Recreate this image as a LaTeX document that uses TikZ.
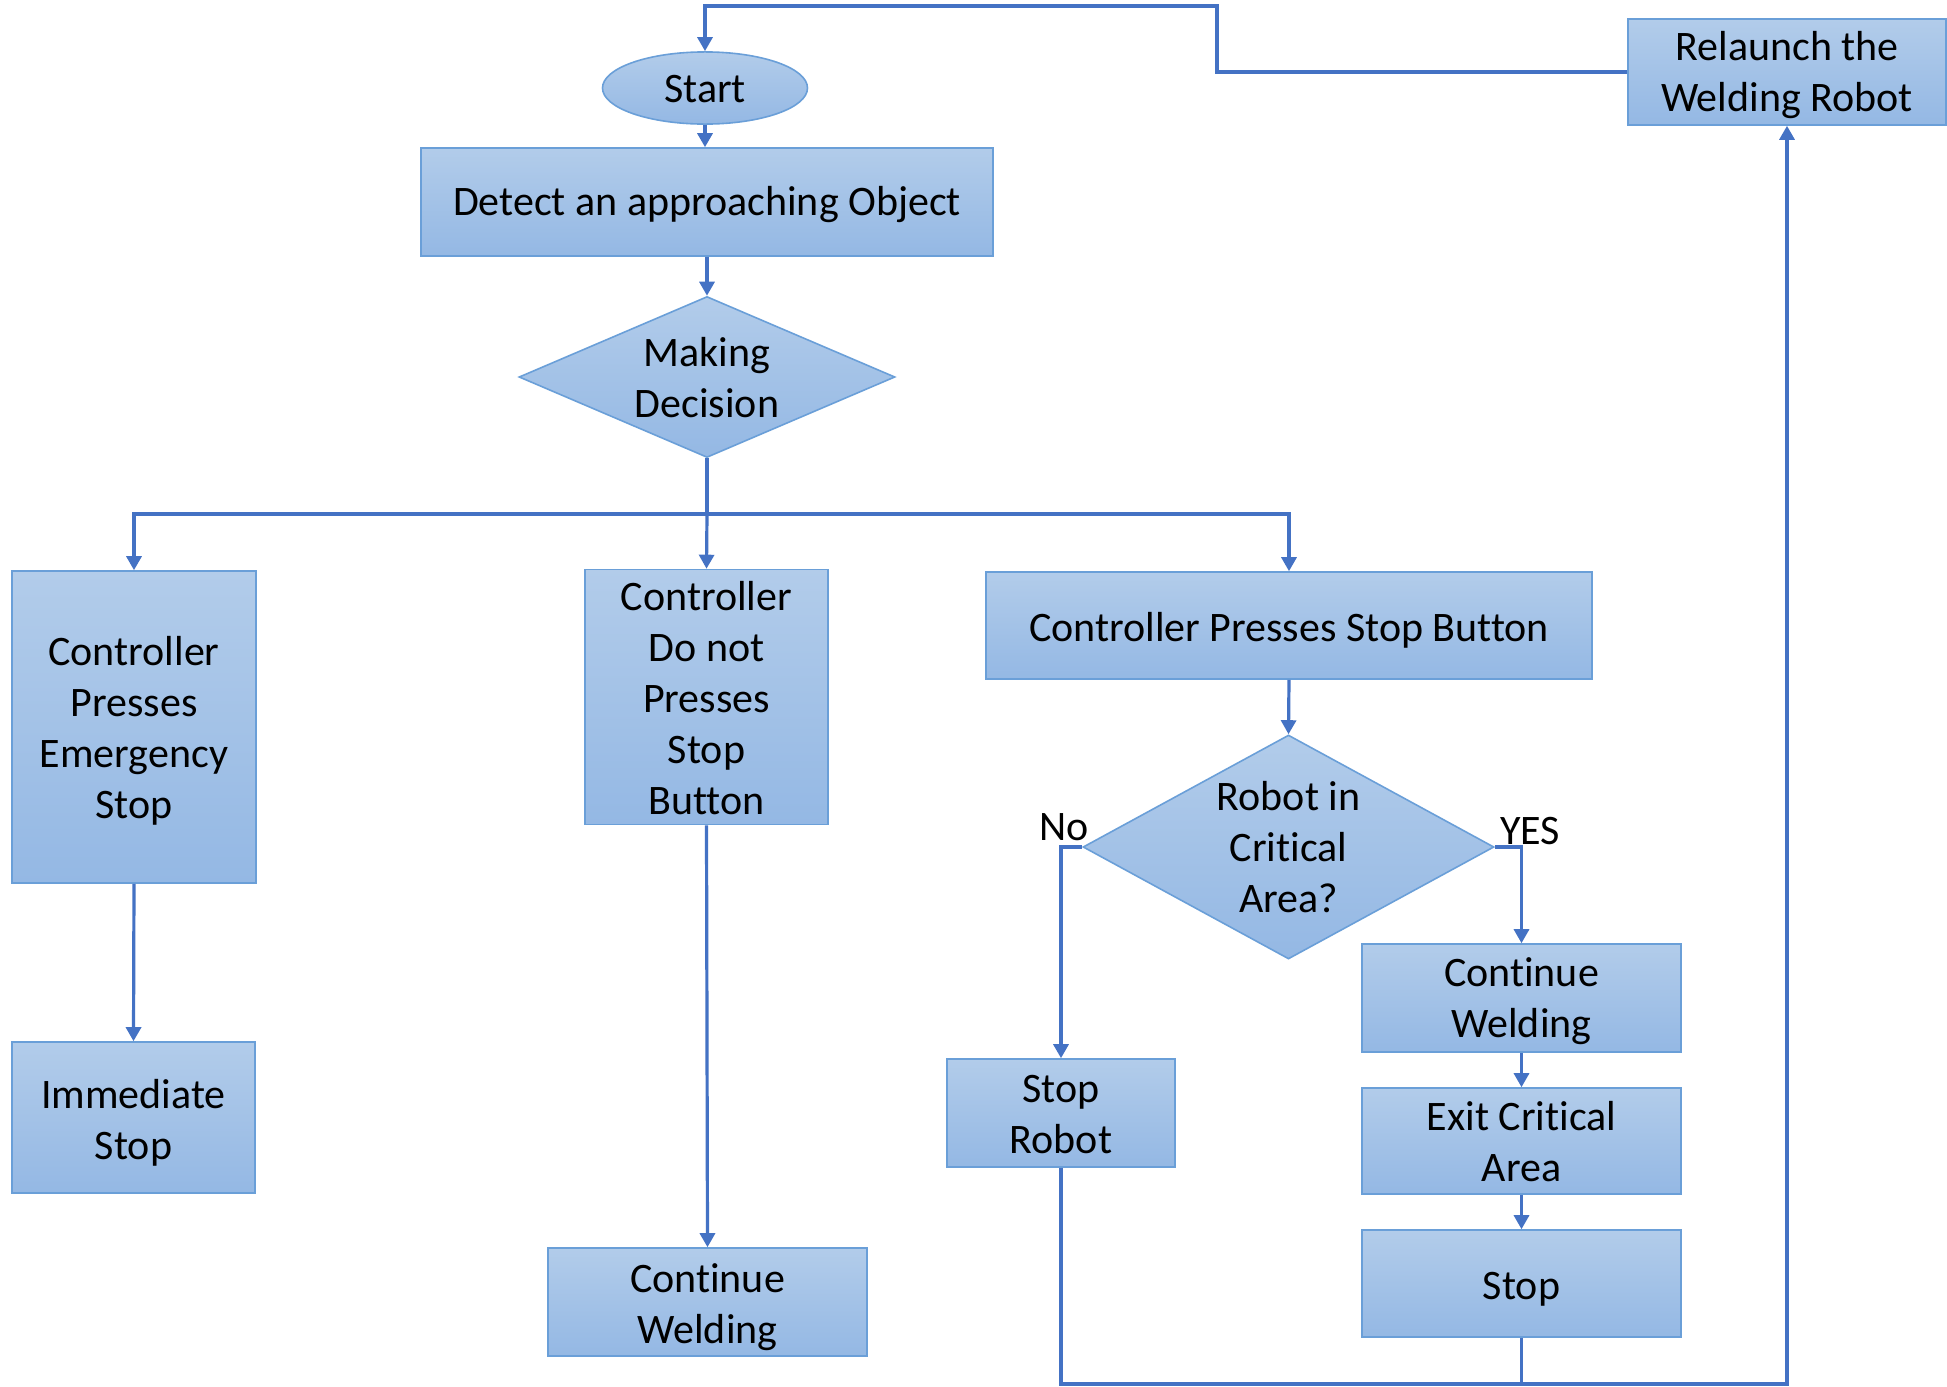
\documentclass[tikz,border=0pt]{standalone}
\usepackage{fontspec}
\setmainfont[Ligatures={NoCommon}]{Carlito}
\usetikzlibrary{shapes.geometric,arrows.meta}
\definecolor{lineC}{HTML}{4472C4}
\definecolor{topC}{HTML}{B2CCEA}
\definecolor{botC}{HTML}{94B8E4}
\definecolor{bordC}{HTML}{6A9FD8}
\newcommand{\tl}[2][5pt]{\raisebox{-#1}[\height][\depth]{\begin{tabular}{@{}c@{}}#2\end{tabular}}}
\tikzset{
  boxstyle/.style={rectangle, top color=topC, bottom color=botC, draw=bordC, line width=1.6pt, inner sep=0pt},
  ellstyle/.style={ellipse, top color=topC, bottom color=botC, draw=bordC, line width=1.6pt, inner sep=0pt},
  diastyle/.style={diamond, top color=topC, bottom color=botC, draw=bordC, line width=1.6pt, inner sep=0pt},
  conn/.style={draw=lineC, line width=3.2pt},
  arr/.style={conn, -{Triangle[width=15pt,length=14pt]}},
  txt/.style={inner sep=0pt}
}
\begin{document}
\begin{tikzpicture}[x=1pt,y=-1pt, every node/.append style={font=\fontsize{42}{51}\selectfont}]
\useasboundingbox (0,0) rectangle (1947,1387);
\fill[white] (0,0) rectangle (1947,1387);

\node[ellstyle, minimum width=205pt, minimum height=70pt] (start) at (705,88) {\tl[4pt]{Start}};
\node[boxstyle, minimum width=572pt, minimum height=108pt] (detect) at (707,202) {\tl[3pt]{Detect an approaching Object}};
\node[diastyle, minimum width=376pt, minimum height=161pt] (dec) at (707,377) {};
\node[txt] at (dec.center) {\tl{Making\\Decision}};

\node[boxstyle, minimum width=244pt, minimum height=312pt] (emerg) at (134,727) {\tl{Controller\\Presses\\Emergency\\Stop}};
\node[boxstyle, minimum width=243pt, minimum height=151pt] (imm) at (133.5,1117.5) {\tl[6pt]{Immediate\\Stop}};
\node[boxstyle, minimum width=243pt, minimum height=252pt] (donot) at (706.5,697) {\tl{Controller\\Do not\\Presses\\Stop\\Button}};
\node[boxstyle, minimum width=319pt, minimum height=108pt] (cw1) at (707.5,1302) {\tl[6pt]{Continue\\Welding}};
\node[boxstyle, minimum width=606pt, minimum height=107pt] (stopbtn) at (1289,625.5) {\tl[6pt]{Controller Presses Stop Button}};
\node[diastyle, minimum width=411pt, minimum height=224pt] (robot) at (1288.5,847) {};
\node[txt] at (robot.center) {\tl[4pt]{Robot in\\Critical\\Area?}};
\node[boxstyle, minimum width=228pt, minimum height=108pt] (stoprobot) at (1061,1113) {\tl{Stop\\Robot}};
\node[boxstyle, minimum width=319pt, minimum height=108pt] (cw2) at (1521.5,998) {\tl[4pt]{Continue\\Welding}};
\node[boxstyle, minimum width=319pt, minimum height=106pt] (exit) at (1521.5,1141) {\tl{Exit Critical\\Area}};
\node[boxstyle, minimum width=319pt, minimum height=107pt] (stop) at (1521.5,1283.5) {\tl[6pt]{Stop}};
\node[boxstyle, minimum width=318pt, minimum height=106pt] (relaunch) at (1787,72) {\tl[4pt]{Relaunch the\\Welding Robot}};

\node[txt] (nolab) at (1064,827) {No};
\node[txt] (yeslab) at (1530,831) {YES};

% connectors
\coordinate (r1) at (1217,72);
\coordinate (r2) at (1217,6);
\draw[arr] (relaunch.west) -- (r1) -- (r2) -| (start.north);
\draw[arr] (start.south) -- (detect.north -| start.south);
\draw[arr] (detect.south) -- (dec.north);
\coordinate (br) at (707,514);
\draw[arr] (dec.south) -- (br) -| (emerg.north);
\draw[arr] (br) -- (donot.north);
\draw[arr] (br) -| (stopbtn.north);
\draw[arr] (emerg.south) -- (imm.north);
\draw[arr] (donot.south) -- (cw1.north);
\draw[arr] (stopbtn.south) -- (robot.north);
\draw[arr] (robot.west) -| (stoprobot.north);
\draw[arr] (robot.east) -| (cw2.north);
\draw[arr] (cw2.south) -- (exit.north);
\draw[arr] (exit.south) -- (stop.north);
\coordinate (b1) at (1061,1384);
\coordinate (b2) at (1521.5,1384);
\draw[arr] (stoprobot.south) -- (b1) -| (relaunch.south);
\draw[conn] (stop.south) -- (b2);
\end{tikzpicture}
\end{document}
